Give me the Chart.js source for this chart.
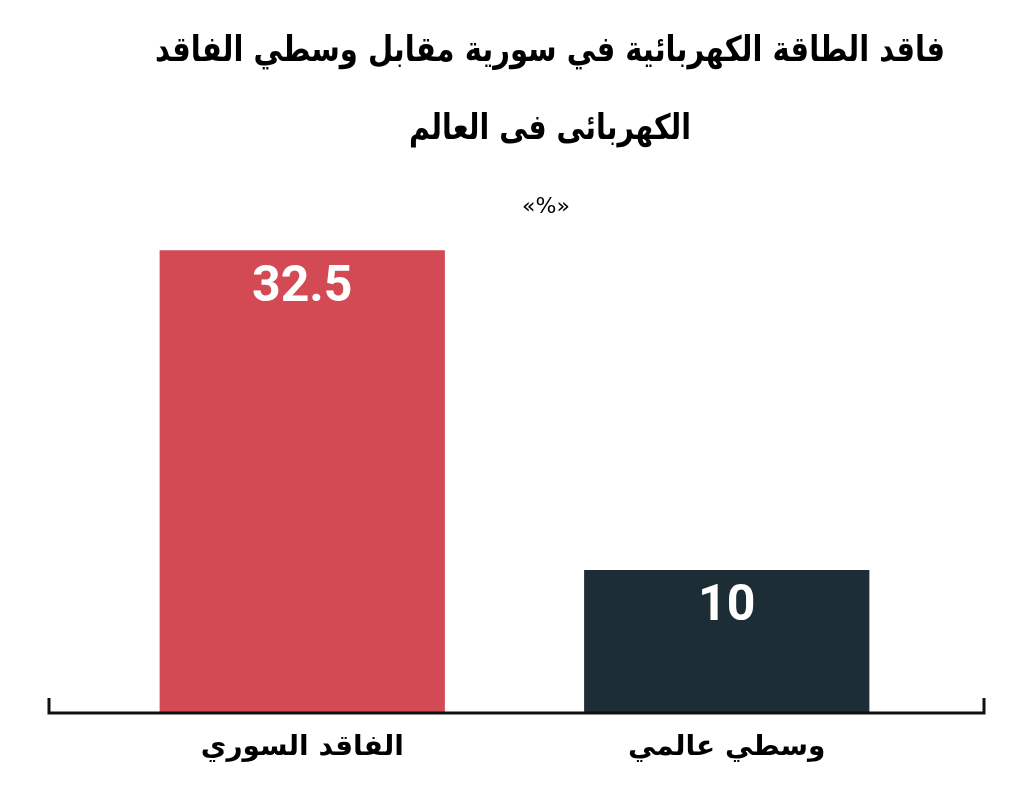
<!DOCTYPE html>
<html>
<head>
<meta charset="utf-8">
<script src="https://cdn.jsdelivr.net/npm/chart.js@4.4.1/dist/chart.umd.min.js"></script>
<style>
  html, body { margin: 0; padding: 0; background: #ffffff; }
  canvas { display: block; }
</style>
</head>
<body>
<canvas id="c" width="1024" height="790"></canvas>
<script>
const titleLines = ["فاقد الطاقة الكهربائية في سورية مقابل وسطي الفاقد", "الكهربائى فى العالم"];
const subtitleText = "«%»";
const categories = ["الفاقد السوري", "وسطي عالمي"];
const values = [32.5, 10];
const barColors = ["#d34a55", "#1c2d35"];

const headerText = {
  id: 'headerText',
  beforeDraw(chart) {
    const ctx = chart.ctx;
    ctx.save();
    ctx.fillStyle = '#000000';
    ctx.textAlign = 'center';
    ctx.textBaseline = 'middle';
    ctx.font = 'bold 35px "DejaVu Sans", sans-serif';
    ctx.fillText(titleLines[0], 550, 52, 790);
    ctx.fillText(titleLines[1], 550, 130, 282);
    ctx.font = '22px "DejaVu Sans", sans-serif';
    ctx.fillText(subtitleText, 546, 207);
    ctx.restore();
  }
};

const valueLabels = {
  id: 'valueLabels',
  afterDatasetsDraw(chart) {
    const ctx = chart.ctx;
    const meta = chart.getDatasetMeta(0);
    ctx.save();
    ctx.fillStyle = '#ffffff';
    ctx.font = 'bold 50px Roboto, "Liberation Sans", sans-serif';
    ctx.textAlign = 'center';
    ctx.textBaseline = 'middle';
    meta.data.forEach((bar, i) => {
      ctx.fillText(String(values[i]), bar.x, bar.y + 38);
    });
    ctx.restore();
  }
};

const baseLine = {
  id: 'baseLine',
  afterDraw(chart) {
    const ctx = chart.ctx;
    const y = chart.scales.y.getPixelForValue(0) + 1;
    ctx.save();
    ctx.strokeStyle = '#111111';
    ctx.lineWidth = 3;
    ctx.lineCap = 'butt';
    ctx.beginPath();
    ctx.moveTo(49, y - 15);
    ctx.lineTo(49, y);
    ctx.lineTo(984, y);
    ctx.lineTo(984, y - 15);
    ctx.stroke();
    ctx.restore();
  }
};

new Chart(document.getElementById('c'), {
  type: 'bar',
  data: {
    labels: categories,
    datasets: [{
      data: values,
      backgroundColor: barColors,
      borderWidth: 0,
      barPercentage: 0.672,
      categoryPercentage: 1.0
    }]
  },
  options: {
    responsive: false,
    devicePixelRatio: 1,
    animation: false,
    layout: { padding: { left: 90, right: 85, top: 229, bottom: 0 } },
    plugins: {
      legend: { display: false },
      tooltip: { enabled: false },
      title: { display: false },
      subtitle: { display: false }
    },
    scales: {
      x: {
        grid: { display: false, drawTicks: false },
        border: { display: false },
        ticks: {
          color: '#000000',
          padding: 19,
          font: { family: '"DejaVu Sans", sans-serif', size: 28, weight: 'bold' }
        },
        afterFit(scale) { scale.height = 78; }
      },
      y: {
        display: false,
        min: 0,
        max: 34
      }
    }
  },
  plugins: [headerText, valueLabels, baseLine]
});
</script>
</body>
</html>
